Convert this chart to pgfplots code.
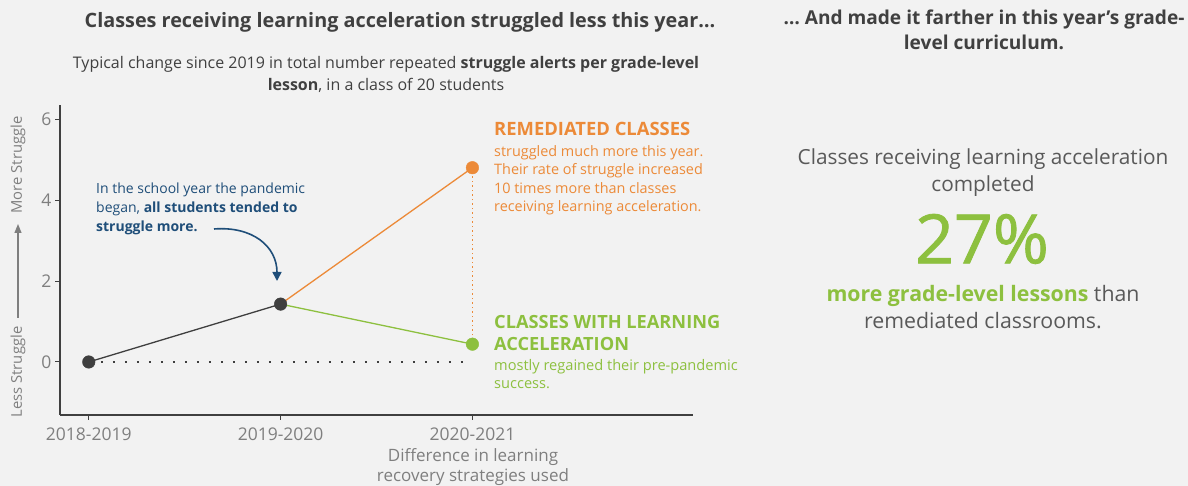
\documentclass[border=0pt]{standalone}
\usepackage{pgfplots}
\pgfplotsset{compat=1.18}
\usepackage{fontspec}
\setmainfont{Open Sans}
\newfontfamily\semib[FakeBold=1.2]{Open Sans}
\usetikzlibrary{arrows.meta}
\definecolor{bg}{HTML}{F2F2F2}
\definecolor{axisc}{HTML}{404040}
\definecolor{tickc}{HTML}{7F7F7F}
\definecolor{darkpt}{HTML}{3F3F3F}
\definecolor{orng}{HTML}{EC8A38}
\definecolor{grn}{HTML}{8DC03F}
\definecolor{navy}{HTML}{1F4E79}
\definecolor{titlec}{HTML}{404040}
\definecolor{bodyc}{HTML}{595959}
\begin{document}
\begin{tikzpicture}[x=1bp,y=1bp]
\fill[bg] (0,0) rectangle (1188,486);
\begin{axis}[at={(60bp,71bp)}, anchor=south west, scale only axis,
  width=633bp, height=310bp,
  xmin=-0.15, xmax=3.15, ymin=-1.31, ymax=6.35,
  axis lines=left, axis line style={-, draw=axisc, line width=1.2bp},
  xtick={0,1,2}, xticklabels={2018-2019,2019-2020,2020-2021},
  ytick={0,2,4,6},
  tick style={draw=axisc, line width=1bp}, major tick length=5bp, tick align=outside,
  ticklabel style={font=\fontsize{17.5bp}{20bp}\selectfont, text=tickc},
  xticklabel style={yshift=-4bp},
  /pgf/number format/assume math mode=true,
  clip=false,
]
\addplot[draw=darkpt, line width=2bp, dash pattern=on 2bp off 10bp] coordinates {(0,0) (2,0)};
\addplot[draw=orng, line width=1.3bp, dash pattern=on 1.5bp off 3bp] coordinates {(2,0.44) (2,4.8)};
\addplot[draw=darkpt, line width=1.3bp] coordinates {(0,0) (1,1.43)};
\addplot[draw=orng, line width=1.3bp] coordinates {(1,1.43) (2,4.8)};
\addplot[draw=grn, line width=1.3bp] coordinates {(1,1.43) (2,0.44)};
\addplot[only marks, mark=*, mark size=6.3bp, mark options={fill=darkpt, draw=darkpt}] coordinates {(0,0) (1,1.43)};
\addplot[only marks, mark=*, mark size=6.3bp, mark options={fill=orng, draw=orng}] coordinates {(2,4.8)};
\addplot[only marks, mark=*, mark size=6.3bp, mark options={fill=grn, draw=grn}] coordinates {(2,0.44)};
\end{axis}
% x label
\node[align=center, text=tickc, font=\fontsize{17bp}{20bp}\selectfont, anchor=north, inner sep=0] at (473,38) {Difference in learning\\recovery strategies used};
% y label
\node[rotate=90, text=tickc, font=\fontsize{14.8bp}{16bp}\selectfont, inner sep=0] at (18,114) {Less Struggle};
\draw[tickc, line width=1.2bp, -{Triangle[length=9bp,width=7bp]}] (18,168) -- (18,262);
\node[rotate=90, text=tickc, font=\fontsize{14.8bp}{16bp}\selectfont, inner sep=0] at (18,321) {More Struggle};
% titles
\node[text=titlec, font=\fontsize{19.8bp}{22bp}\selectfont\bfseries, inner sep=0] at (400,464) {Classes receiving learning acceleration struggled less this year…};
\node[text=titlec, align=center, font=\fontsize{16bp}{22bp}\selectfont, inner sep=0, anchor=north] at (386,430) {Typical change since 2019 in total number repeated \textbf{struggle alerts per grade-level}\\\textbf{lesson}, in a class of 20 students};
\node[text=titlec, align=center, font=\fontsize{19.1bp}{25bp}\selectfont\bfseries, inner sep=0, anchor=north] at (984,476) {… And made it farther in this year’s grade-\\level curriculum.};
% orange annotation
\node[text=orng, font=\fontsize{18.4bp}{20bp}\selectfont\bfseries, inner sep=0, anchor=north west] at (494,364) {REMEDIATED CLASSES};
\node[text=orng, align=left, font=\fontsize{14.4bp}{18.5bp}\selectfont, inner sep=0, anchor=north west] at (494,341) {struggled much more this year.\\Their rate of struggle increased\\10 times more than classes\\receiving learning acceleration.};
% green annotation
\node[text=grn, align=left, font=\fontsize{18.2bp}{22bp}\selectfont\bfseries, inner sep=0, anchor=north west] at (494,171) {CLASSES WITH LEARNING\\ACCELERATION};
\node[text=grn, align=left, font=\fontsize{14.6bp}{18.5bp}\selectfont, inner sep=0, anchor=north west] at (494,127) {mostly regained their pre-pandemic\\success.};
% blue annotation
\node[text=navy, align=left, font=\fontsize{14bp}{19bp}\selectfont, inner sep=0, anchor=north west] at (96,303) {In the school year the pandemic\\began, \textbf{all students tended to}\\\textbf{struggle more.}};
\draw[navy, line width=1.6bp, -{Triangle[length=9bp,width=9bp]}] (214,257) .. controls (252,260) and (277,240) .. (277,205);
% right block
\node[text=bodyc, align=center, font=\fontsize{20.8bp}{27bp}\selectfont, inner sep=0, anchor=north] at (983,337) {Classes receiving learning acceleration\\completed};
\node[text=grn, font=\fontsize{68bp}{80bp}\semib, inner sep=0] at (982,247) {27\%};
\node[text=bodyc, align=center, font=\fontsize{21.3bp}{27bp}\selectfont, inner sep=0, anchor=north] at (983,201) {\textcolor{grn}{\textbf{more grade-level lessons}} than\\remediated classrooms.};
\end{tikzpicture}
\end{document}
